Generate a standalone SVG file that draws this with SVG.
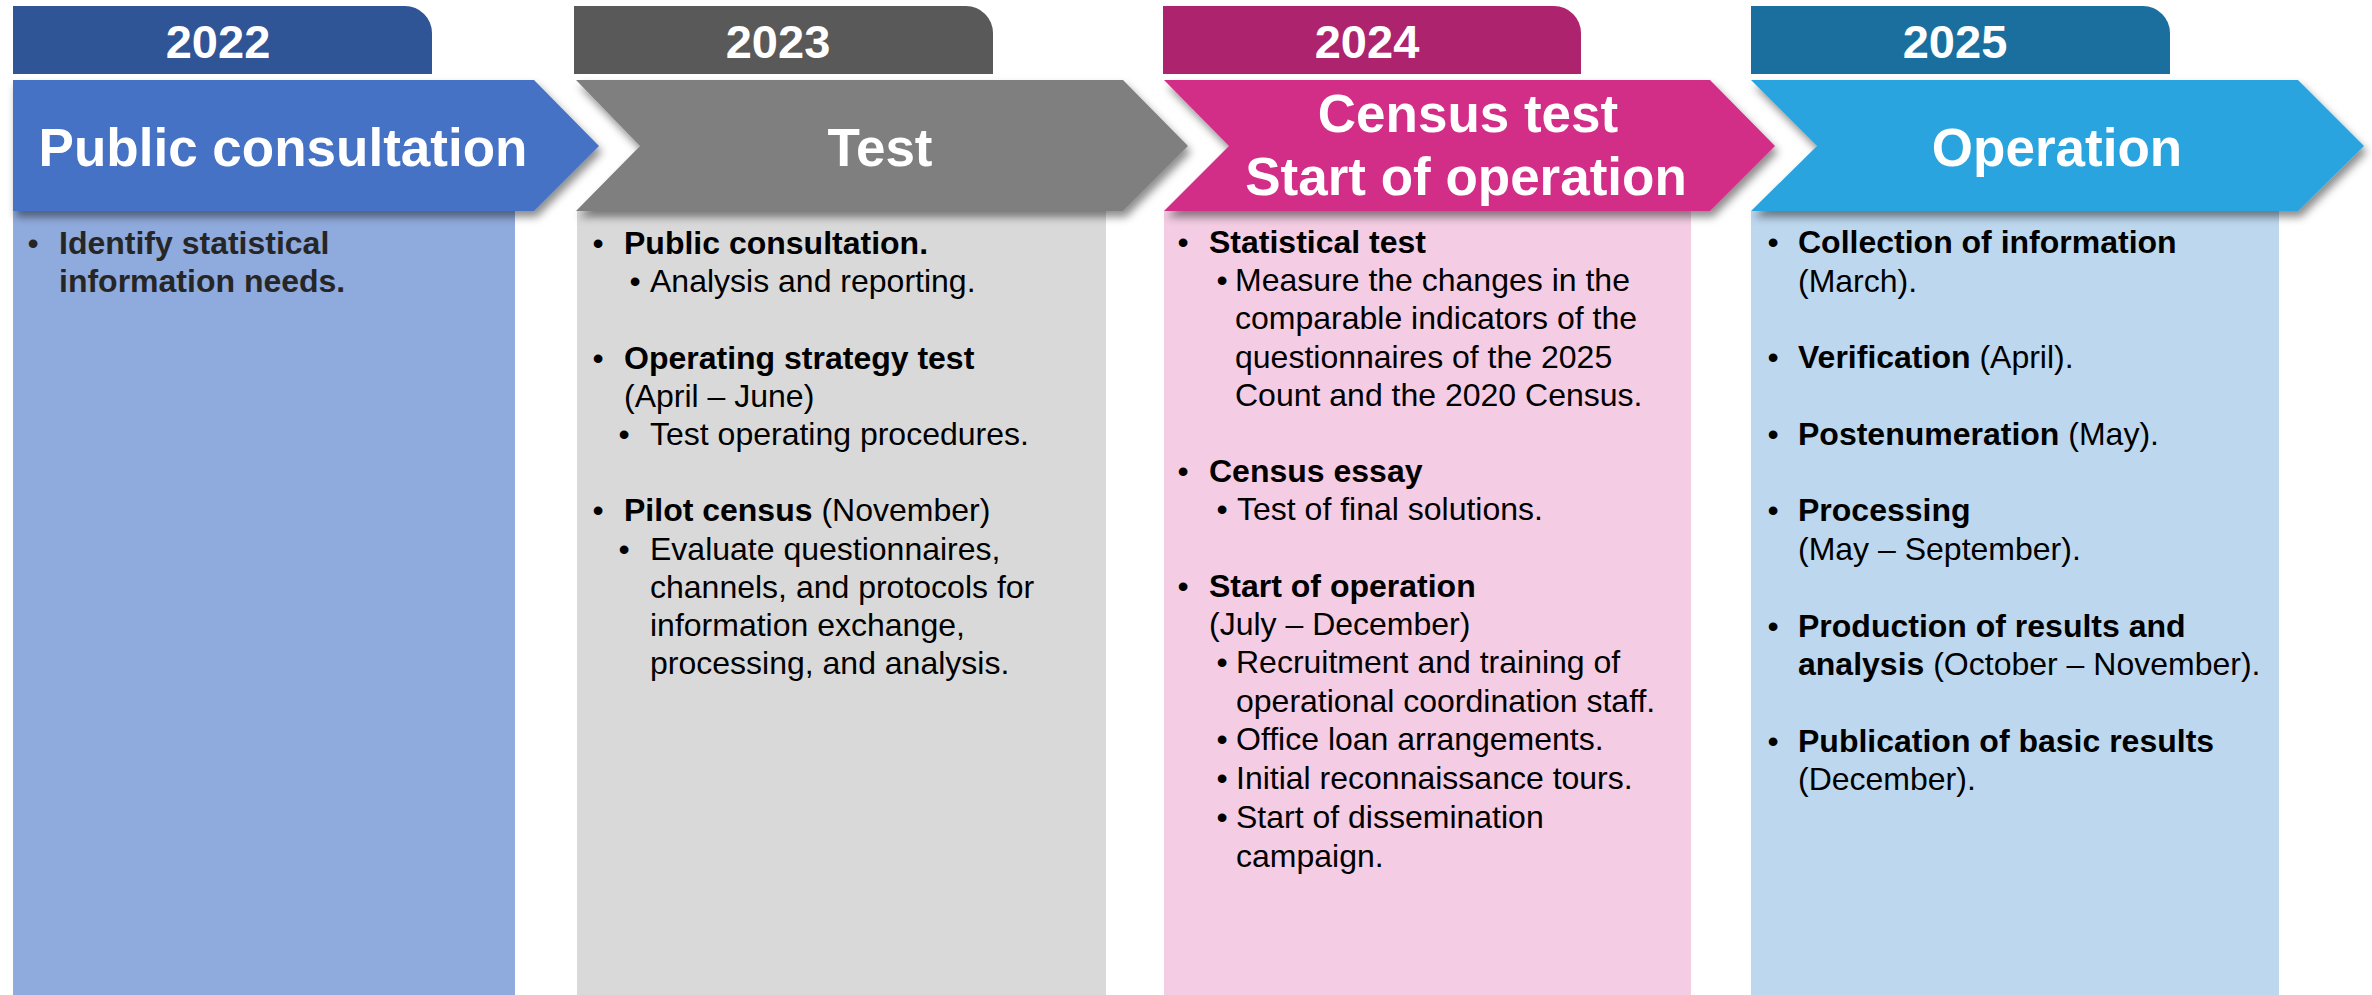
<svg xmlns="http://www.w3.org/2000/svg" width="2372" height="995" viewBox="0 0 2372 995">
<defs>
<filter id="sh" x="-5%" y="-20%" width="115%" height="150%">
<feDropShadow dx="3" dy="6" stdDeviation="4" flood-color="#000" flood-opacity="0.45"/>
</filter>
<style>
text{font-family:"Liberation Sans",Arial,sans-serif}
.yr{font-size:47px;font-weight:bold;fill:#fff;text-anchor:middle}
.hd{font-size:53px;font-weight:bold;fill:#fff;text-anchor:middle}
.tx{font-size:32px;fill:#000}
.c1{fill:#262626}
.b{font-weight:bold}
.bu{text-anchor:middle}
</style>
</defs>
<rect width="2372" height="995" fill="#fff"/>

<g id="col2022">
<rect x="13" y="211" width="502" height="784" fill="#8FAADC"/>
<path d="M13,6 H405 A27,27 0 0 1 432,33 V74 H13 Z" fill="#2F5597"/>
<path d="M13,80 L534,80 L599,146 L534,211 L13,211 Z" fill="#4472C4" filter="url(#sh)"/>
<text class="yr" x="218" y="58">2022</text>
<text class="hd" x="283" y="166">Public consultation</text>
<g class="tx c1">
<text class="tx c1 bu" x="33" y="254">•</text>
<text class="tx c1 b" x="59" y="254">Identify statistical</text>
<text class="tx c1 b" x="59" y="292">information needs.</text>
</g>
</g>

<g id="col2023">
<rect x="577" y="211" width="529" height="784" fill="#D9D9D9"/>
<path d="M574,6 H966 A27,27 0 0 1 993,33 V74 H574 Z" fill="#595959"/>
<path d="M576,80 L1123,80 L1188,146 L1123,211 L576,211 L640,146 Z" fill="#7F7F7F" filter="url(#sh)"/>
<text class="yr" x="778" y="58">2023</text>
<text class="hd" x="880" y="166">Test</text>
<text class="tx bu" x="598" y="254">•</text>
<text class="tx b" x="624" y="254">Public consultation.</text>
<text class="tx bu" x="635" y="292">•</text>
<text class="tx" x="650" y="292">Analysis and reporting.</text>
<text class="tx bu" x="598" y="369">•</text>
<text class="tx b" x="624" y="369">Operating strategy test</text>
<text class="tx" x="624" y="407">(April – June)</text>
<text class="tx bu" x="624" y="445">•</text>
<text class="tx" x="650" y="445">Test operating procedures.</text>
<text class="tx bu" x="598" y="521">•</text>
<text class="tx" x="624" y="521"><tspan class="b">Pilot census</tspan> (November)</text>
<text class="tx bu" x="624" y="560">•</text>
<text class="tx" x="650" y="560">Evaluate questionnaires,</text>
<text class="tx" x="650" y="598">channels, and protocols for</text>
<text class="tx" x="650" y="636">information exchange,</text>
<text class="tx" x="650" y="674">processing, and analysis.</text>
</g>

<g id="col2024">
<rect x="1164" y="211" width="527" height="784" fill="#F4CCE3"/>
<path d="M1163,6 H1554 A27,27 0 0 1 1581,33 V74 H1163 Z" fill="#AD236D"/>
<path d="M1164,80 L1710,80 L1775,146 L1710,211 L1164,211 L1229,146 Z" fill="#D22E87" filter="url(#sh)"/>
<text class="yr" x="1367" y="58">2024</text>
<text class="hd" x="1468" y="132">Census test</text>
<text class="hd" x="1466" y="195">Start of operation</text>
<text class="tx bu" x="1183" y="253">•</text>
<text class="tx b" x="1209" y="253">Statistical test</text>
<text class="tx bu" x="1222" y="291">•</text>
<text class="tx" x="1235" y="291">Measure the changes in the</text>
<text class="tx" x="1235" y="329">comparable indicators of the</text>
<text class="tx" x="1235" y="368">questionnaires of the 2025</text>
<text class="tx" x="1235" y="406">Count and the 2020 Census.</text>
<text class="tx bu" x="1183" y="482">•</text>
<text class="tx b" x="1209" y="482">Census essay</text>
<text class="tx bu" x="1222" y="520">•</text>
<text class="tx" x="1237" y="520">Test of final solutions.</text>
<text class="tx bu" x="1183" y="597">•</text>
<text class="tx b" x="1209" y="597">Start of operation</text>
<text class="tx" x="1209" y="635">(July – December)</text>
<text class="tx bu" x="1222" y="673">•</text>
<text class="tx" x="1236" y="673">Recruitment and training of</text>
<text class="tx" x="1236" y="712">operational coordination staff.</text>
<text class="tx bu" x="1222" y="750">•</text>
<text class="tx" x="1236" y="750">Office loan arrangements.</text>
<text class="tx bu" x="1222" y="789">•</text>
<text class="tx" x="1236" y="789">Initial reconnaissance tours.</text>
<text class="tx bu" x="1222" y="828">•</text>
<text class="tx" x="1236" y="828">Start of dissemination</text>
<text class="tx" x="1236" y="867">campaign.</text>
</g>

<g id="col2025">
<rect x="1751" y="211" width="528" height="784" fill="#BDD7EE"/>
<path d="M1751,6 H2143 A27,27 0 0 1 2170,33 V74 H1751 Z" fill="#1A6F9F"/>
<path d="M1751,80 L2298,80 L2364,146 L2298,211 L1751,211 L1817,146 Z" fill="#29A4DE" filter="url(#sh)"/>
<text class="yr" x="1955" y="58">2025</text>
<text class="hd" x="2057" y="166">Operation</text>
<text class="tx bu" x="1773" y="253">•</text>
<text class="tx b" x="1798" y="253">Collection of information</text>
<text class="tx" x="1798" y="292">(March).</text>
<text class="tx bu" x="1773" y="368">•</text>
<text class="tx" x="1798" y="368"><tspan class="b">Verification</tspan> (April).</text>
<text class="tx bu" x="1773" y="445">•</text>
<text class="tx" x="1798" y="445"><tspan class="b">Postenumeration</tspan> (May).</text>
<text class="tx bu" x="1773" y="521">•</text>
<text class="tx b" x="1798" y="521">Processing</text>
<text class="tx" x="1798" y="560">(May – September).</text>
<text class="tx bu" x="1773" y="637">•</text>
<text class="tx b" x="1798" y="637">Production of results and</text>
<text class="tx" x="1798" y="675"><tspan class="b">analysis</tspan> (October – November).</text>
<text class="tx bu" x="1773" y="752">•</text>
<text class="tx b" x="1798" y="752">Publication of basic results</text>
<text class="tx" x="1798" y="790">(December).</text>
</g>
</svg>
